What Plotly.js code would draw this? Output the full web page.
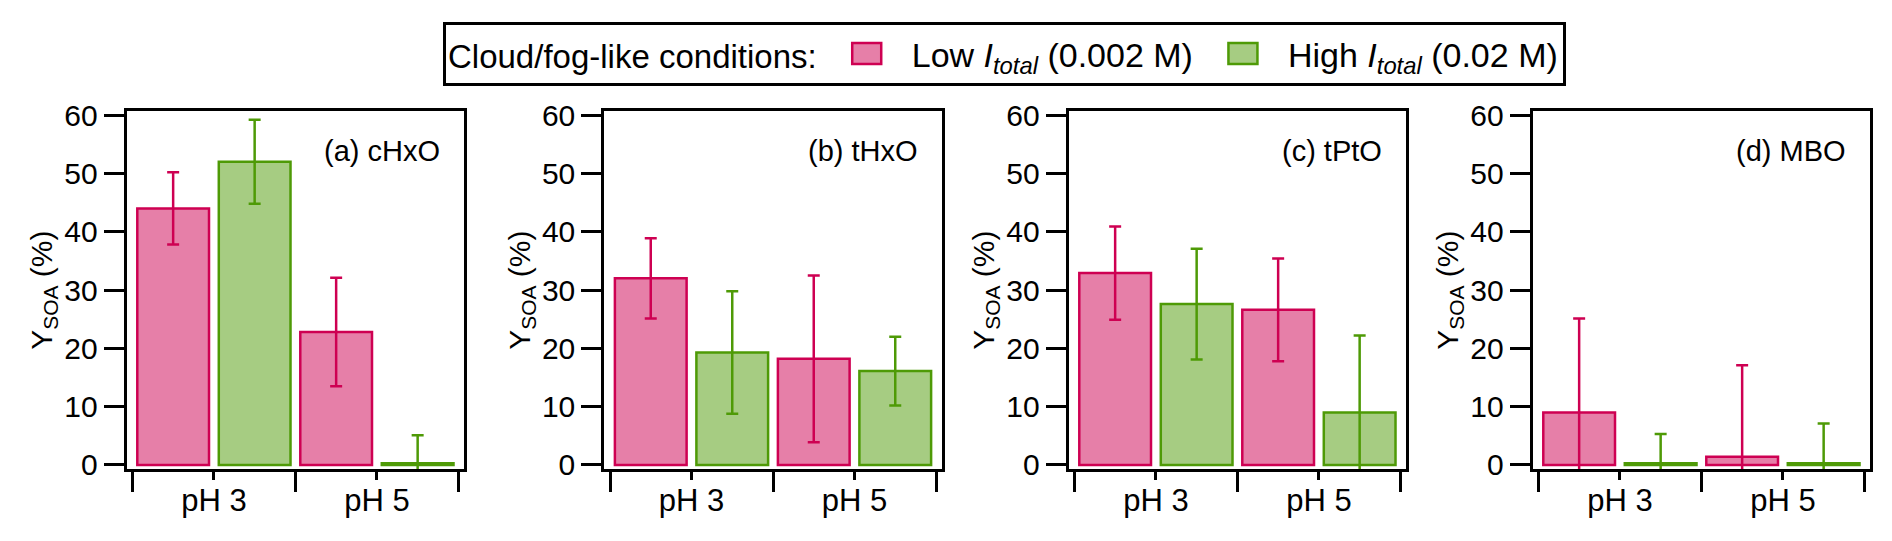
<!DOCTYPE html>
<html>
<head>
<meta charset="utf-8">
<script src="https://cdn.plot.ly/plotly-3.0.1.min.js"></script>
<style>html,body{margin:0;padding:0;background:#fff;}#chart{width:1892px;height:541px;}</style>
</head>
<body>
<div id="chart"></div>
<script>
// ---- data ----
const categories = ['pH 3', 'pH 5'];
const panelLabels = ['(a) cHxO', '(b) tHxO', '(c) tPtO', '(d) MBO'];
const legendTitle = 'Cloud/fog-like conditions:';
const seriesNames = [
  'Low <i>I</i><sub><i>total</i></sub> (0.002 M)',
  'High <i>I</i><sub><i>total</i></sub> (0.02 M)'
];
const yTitle = 'Y<sub>SOA</sub> (%)';
const yTicks = [0, 10, 20, 30, 40, 50, 60];

// Y_SOA (%) per panel [pH 3, pH 5]
const lowValues  = [[44.0, 22.8], [32.0, 18.2], [32.9, 26.6], [9.0, 1.4]];
const lowErrors  = [[6.2, 9.3],   [6.9, 14.3],  [8.0, 8.8],   [16.1, 15.7]];
const highValues = [[52.0, 0.3],  [19.3, 16.1], [27.6, 9.0],  [0.3, 0.3]];
const highErrors = [[7.2, 4.8],   [10.5, 5.9],  [9.5, 13.2],  [5.0, 6.8]];

// ---- styles ----
const FONT = 'Liberation Sans, Arial, Helvetica, sans-serif';
const edgeColors = ['rgb(206,0,82)', 'rgb(78,154,6)'];
const fillColors = ['rgba(206,0,82,0.5)', 'rgba(78,154,6,0.5)'];

const W = 1892, H = 541;
const panelLeftPx = [126.7, 604.3, 1068.7, 1532.7];
const panelWidthPx = 337.4;
const topPx = 111, bottomPx = 469.3;

const xIdx = categories.map((c, i) => i);
const seriesVals = [lowValues, highValues];
const seriesErrs = [lowErrors, highErrors];

const traces = [];
const layout = {
  width: W, height: H,
  margin: {l: 0, r: 0, t: 0, b: 0},
  paper_bgcolor: '#fff', plot_bgcolor: '#fff',
  font: {family: FONT, size: 30, color: '#000'},
  barmode: 'group', bargap: 0, bargroupgap: 0.12,
  showlegend: true,
  legend: {
    orientation: 'h', x: 443 / W, xanchor: 'left', y: (H - 22) / H, yanchor: 'top',
    bordercolor: '#000', borderwidth: 3, bgcolor: '#fff',
    font: {family: FONT, size: 34, color: '#000'},
    title: {text: legendTitle, font: {family: FONT, size: 33, color: '#000'}},
    itemwidth: 80
  },
  annotations: [],
  hovermode: false
};

panelLabels.forEach((lab, p) => {
  const sfx = p === 0 ? '' : String(p + 1);
  const xa = 'x' + sfx, ya = 'y' + sfx;
  for (let s = 0; s < 2; s++) {
    traces.push({
      type: 'bar', x: xIdx, y: seriesVals[s][p],
      xaxis: xa, yaxis: ya,
      name: seriesNames[s], legendgroup: 's' + s, showlegend: p === 0,
      marker: {color: fillColors[s], line: {color: edgeColors[s], width: 2.5}},
      error_y: {type: 'data', array: seriesErrs[s][p], visible: true,
                color: edgeColors[s], thickness: 2.5, width: 6}
    });
  }
  const x0 = panelLeftPx[p] / W, x1 = (panelLeftPx[p] + panelWidthPx) / W;
  layout['xaxis' + sfx] = {
    domain: [x0, x1], anchor: ya, type: 'linear', range: [-0.535, 1.535],
    tickmode: 'array', tickvals: xIdx, ticktext: categories,
    ticks: 'outside', ticklen: 8, tickwidth: 3, tickcolor: '#000',
    ticklabelstandoff: -7,
    minor: {tickmode: 'array', tickvals: [-0.5, 0.5, 1.5], ticks: 'outside',
            ticklen: 20, tickwidth: 3, tickcolor: '#000', showgrid: false},
    showline: true, linewidth: 3, linecolor: '#000', mirror: true,
    showgrid: false, zeroline: false, fixedrange: true,
    tickfont: {family: FONT, size: 31, color: '#000'}
  };
  layout['yaxis' + sfx] = {
    domain: [(H - bottomPx) / H, (H - topPx) / H], anchor: xa,
    range: [-0.74, 60.7], tickmode: 'array', tickvals: yTicks,
    ticks: 'outside', ticklen: 20, tickwidth: 3, tickcolor: '#000',
    showline: true, linewidth: 3, linecolor: '#000', mirror: true,
    showgrid: false, zeroline: false, fixedrange: true,
    tickfont: {family: FONT, size: 30, color: '#000'},
    title: {text: yTitle, font: {family: FONT, size: 30, color: '#000'}}
  };
  layout.annotations.push({
    text: lab, xref: xa + ' domain', yref: ya + ' domain', x: 1, y: 1,
    xanchor: 'right', yanchor: 'middle', xshift: -22, yshift: -40,
    showarrow: false, font: {family: FONT, size: 29, color: '#000'}
  });
});

Plotly.newPlot('chart', traces, layout, {staticPlot: true, displayModeBar: false})
  .then(gd => {
    // enlarge the legend swatches to the reference's rectangular keys
    gd.querySelectorAll('.legend .legendpoints path').forEach(pth => {
      pth.setAttribute('d', 'M14.5,10.5H-14.5V-10.5H14.5Z');
    });
  });
</script>
</body>
</html>
